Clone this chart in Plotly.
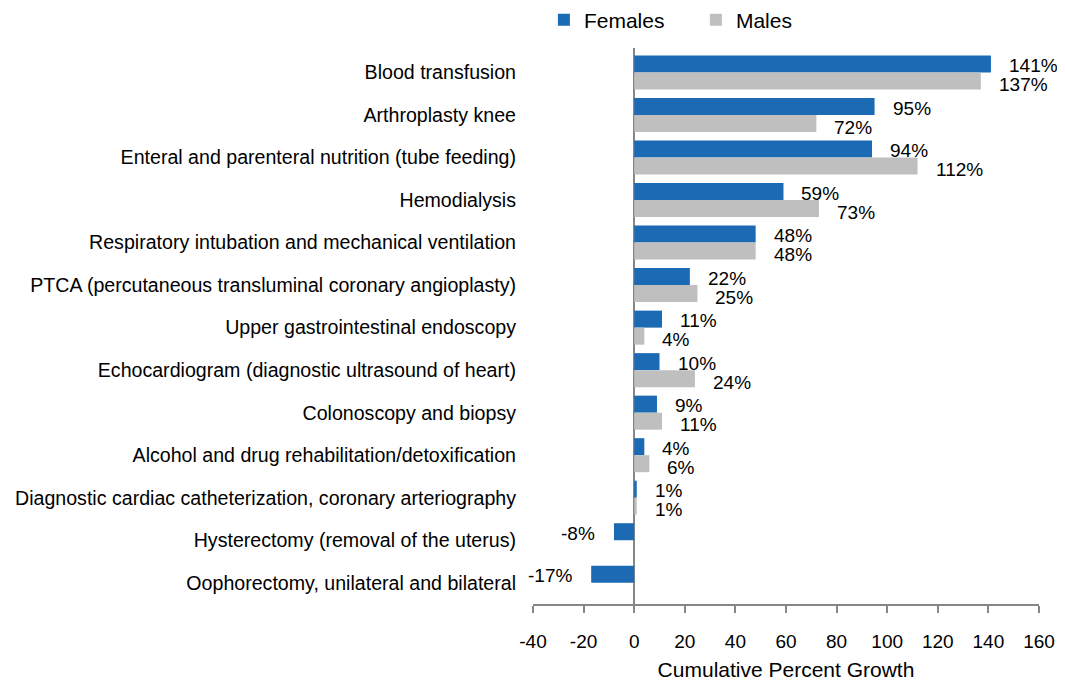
import plotly.graph_objects as go

categories = [
    "Blood transfusion",
    "Arthroplasty knee",
    "Enteral and parenteral nutrition (tube feeding)",
    "Hemodialysis",
    "Respiratory intubation and mechanical ventilation",
    "PTCA (percutaneous transluminal coronary angioplasty)",
    "Upper gastrointestinal endoscopy",
    "Echocardiogram (diagnostic ultrasound of heart)",
    "Colonoscopy and biopsy",
    "Alcohol and drug rehabilitation/detoxification",
    "Diagnostic cardiac catheterization, coronary arteriography",
    "Hysterectomy (removal of the uterus)",
    "Oophorectomy, unilateral and bilateral",
]
females = [141, 95, 94, 59, 48, 22, 11, 10, 9, 4, 1, -8, -17]
males = [137, 72, 112, 73, 48, 25, 4, 24, 11, 6, 1, None, None]
x_ticks = [-40, -20, 0, 20, 40, 60, 80, 100, 120, 140, 160]

FONT = "Liberation Sans, Arial, sans-serif"
F_COLOR = "#1B6AB3"
M_COLOR = "#BFBFBF"

fig = go.Figure()
fig.add_trace(go.Bar(y=categories, x=females, name="Females", orientation="h",
                     marker=dict(color=F_COLOR, line=dict(width=0))))
fig.add_trace(go.Bar(y=categories, x=males, name="Males", orientation="h",
                     marker=dict(color=M_COLOR, line=dict(width=0))))

annotations = []
for series, yshift in ((females, 7), (males, -12)):
    for i, v in enumerate(series):
        if v is None:
            continue
        annotations.append(dict(
            x=v, y=i, xref="x", yref="y", yshift=yshift,
            text=f"{v}%", showarrow=False,
            xanchor="left" if v >= 0 else "right",
            xshift=16 if v >= 0 else -17,
            font=dict(family=FONT, size=19, color="#000000")))

fig.update_layout(
    width=1057, height=673,
    margin=dict(l=525, r=26, t=40, b=77, autoexpand=False),
    paper_bgcolor="white", plot_bgcolor="white",
    barmode="group", bargap=0.2, bargroupgap=0,
    font=dict(family=FONT, size=20, color="#000000"),
    legend=dict(orientation="h", x=0.507, xanchor="left", y=0.982, yanchor="middle",
                xref="container", yref="container", font=dict(size=21),
                itemwidth=30, entrywidth=107, traceorder="normal"),
    annotations=annotations,
    showlegend=True,
)
fig.update_xaxes(
    range=[-40, 160], tickvals=x_ticks, ticktext=[str(t) for t in x_ticks],
    showgrid=False, showline=True, linecolor="#868686", linewidth=2,
    ticks="outside", ticklen=7, tickcolor="#868686", tickwidth=2,
    zeroline=True, zerolinecolor="#868686", zerolinewidth=2,
    tickfont=dict(size=19, color="#000000"), ticklabelstandoff=12,
    title=dict(text="Cumulative Percent Growth", font=dict(size=21), standoff=17),
    fixedrange=True,
)
fig.update_yaxes(
    autorange="reversed", showgrid=False, showline=False, ticks="",
    tickfont=dict(size=19.6, color="#000000"), ticklabelstandoff=16,
)
fig.write_html("out.html")
